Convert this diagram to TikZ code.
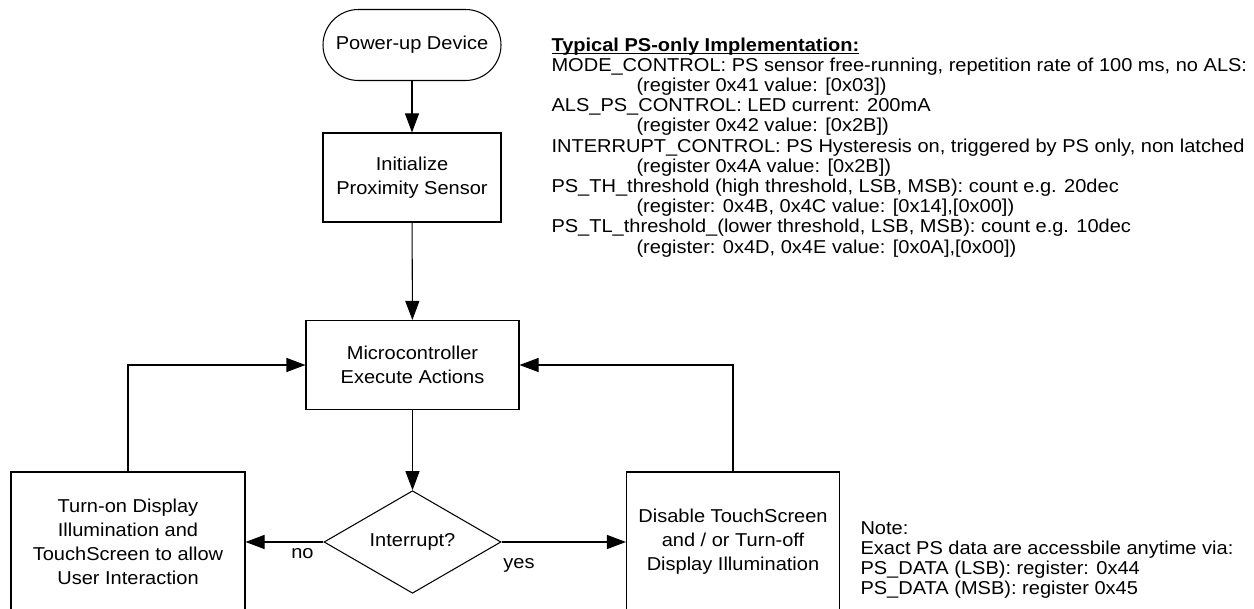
\documentclass[tikz,border=0pt]{standalone}
\usepackage{fontspec}
\setmainfont[FakeStretch=1.075]{Liberation Sans}
\usetikzlibrary{arrows.meta,shapes.geometric}
\newcommand\titleline[1]{\setbox0\hbox{#1}\rlap{\rule[-1.6pt]{\wd0}{0.7pt}}\box0}
\tikzset{
  box/.style = {draw, align=center, minimum width=4.26cm, minimum height=1.78cm,
                font=\fontsize{10.6}{13.7}\selectfont},
  arr/.style = {-{Triangle[length=0.38cm,width=0.28cm]}},
  txt/.style = {align=left, inner sep=0, font=\fontsize{10.6}{11.5}\selectfont}
}
\begin{document}
\begin{tikzpicture}[line width=0.6pt]
    \useasboundingbox (0,0) rectangle (25.08,12.18);
    \node [box, rounded corners=0.71cm, minimum width=3.56cm, minimum height=1.42cm] (power) at (8.24,11.28) {Power-up Device};
    \node [box, minimum width=3.56cm] (init) at (8.24,8.63) {Initialize\\Proximity Sensor};
    \node [box] (mcu) at (8.25,4.88) {Microcontroller\\Execute Actions};
    \node [box, diamond, inner sep=0, minimum width=3.54cm, minimum height=1.76cm] (irq) at (8.25,1.34) {Interrupt?};
    \node [box, minimum width=4.68cm, minimum height=2.8cm] (on) at (2.56,1.34) {Turn-on Display\\Illumination and\\TouchScreen to allow\\User Interaction};
    \node [box, minimum height=2.8cm] (off) at (14.66,1.34) {Disable TouchScreen\\and / or Turn-off\\Display Illumination};
    \draw [arr] (power) -- (init);
    \draw [arr] (init) -- (mcu);
    \draw [arr] (mcu) -- (irq);
    \draw [arr] (irq) -- node [pos=0.27, below, font=\fontsize{10.6}{13}\selectfont] {no} (on);
    \draw [arr] (irq) -- node [pos=0.14, below=0.2cm, font=\fontsize{10.6}{13}\selectfont] {yes} (off);
    \draw [arr] (on.north) |- (mcu.west);
    \draw [arr] (off.north) |- (mcu.east);
    \node [txt, anchor=north west] (typical) at (11.02,11.44) {\titleline{\textbf{Typical PS-only Implementation:}}\\
      MODE\_CONTROL: PS sensor free-running, repetition rate of 100 ms, no ALS:\\
      \hspace*{1.7cm}(register 0x41 value: [0x03])\\
      ALS\_PS\_CONTROL: LED current: 200mA\\
      \hspace*{1.7cm}(register 0x42 value: [0x2B])\\
      INTERRUPT\_CONTROL: PS Hysteresis on, triggered by PS only, non latched\\
      \hspace*{1.7cm}(register 0x4A value: [0x2B])\\
      PS\_TH\_threshold (high threshold, LSB, MSB): count e.g. 20dec\\
      \hspace*{1.7cm}(register: 0x4B, 0x4C value: [0x14],[0x00])\\
      PS\_TL\_threshold\_(lower threshold, LSB, MSB): count e.g. 10dec\\
      \hspace*{1.7cm}(register: 0x4D, 0x4E value: [0x0A],[0x00])};
    \node [txt, anchor=north west] (note) at (17.2,1.76) {Note:\\
      Exact PS data are accessbile anytime via:\\
      PS\_DATA (LSB): register: 0x44\\
      PS\_DATA (MSB): register 0x45};
\end{tikzpicture}
\end{document}
